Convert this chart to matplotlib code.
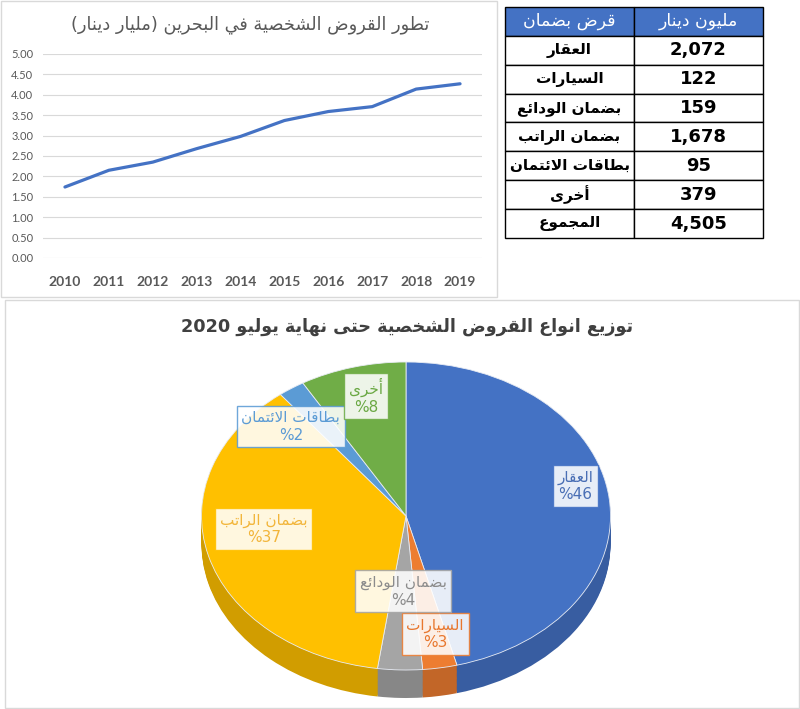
import re
import numpy as np
import matplotlib
matplotlib.use("Agg")
import matplotlib.pyplot as plt
from matplotlib.patches import Rectangle
from matplotlib.colors import to_rgb

# ---- data ----
years = [2010, 2011, 2012, 2013, 2014, 2015, 2016, 2017, 2018, 2019]
loans_bn = [1.74, 2.15, 2.35, 2.68, 2.98, 3.37, 3.59, 3.71, 4.14, 4.27]

loan_types = ["العقار", "السيارات", "بضمان الودائع", "بضمان الراتب", "بطاقات الائتمان", "أخرى"]
loan_values = [2072, 122, 159, 1678, 95, 379]
total_label = "المجموع"

line_title = "تطور القروض الشخصية في البحرين (مليار دينار)"
pie_title = "توزيع انواع القروض الشخصية حتى نهاية يوليو 2020"
table_header = ["قرض بضمان", "مليون دينار"]

# ---- styles ----
pie_colors = ["#4472C4", "#ED7D31", "#A5A5A5", "#FFC000", "#5B9BD5", "#70AD47"]
text_colors = ["#4A6FB5", "#E8772E", "#8C8C8C", "#F2B53A", "#5B9BD5", "#6AA843"]
label_r = [0.85, 0.78, 0.49, 0.70, 0.81, 0.80]
label_shift = [6, 1, 0, -8, 10, -1]

# ---- minimal arabic shaping (presentation forms) + visual order ----
DUAL = {'ئ': 0xFE89, 'ب': 0xFE8F, 'ت': 0xFE95, 'ث': 0xFE99, 'ج': 0xFE9D, 'ح': 0xFEA1,
        'خ': 0xFEA5, 'س': 0xFEB1, 'ش': 0xFEB5, 'ص': 0xFEB9, 'ض': 0xFEBD, 'ط': 0xFEC1,
        'ظ': 0xFEC5, 'ع': 0xFEC9, 'غ': 0xFECD, 'ف': 0xFED1, 'ق': 0xFED5, 'ك': 0xFED9,
        'ل': 0xFEDD, 'م': 0xFEE1, 'ن': 0xFEE5, 'ه': 0xFEE9, 'ي': 0xFEF1}
RIGHT = {'آ': 0xFE81, 'أ': 0xFE83, 'ؤ': 0xFE85, 'إ': 0xFE87, 'ا': 0xFE8D, 'ة': 0xFE93,
         'د': 0xFEA9, 'ذ': 0xFEAB, 'ر': 0xFEAD, 'ز': 0xFEAF, 'و': 0xFEED, 'ى': 0xFEEF}
LAMALEF = {'آ': 0xFEF5, 'أ': 0xFEF7, 'إ': 0xFEF9, 'ا': 0xFEFB}


def shape(s):
    toks = []
    i = 0
    while i < len(s):
        if s[i] == 'ل' and i + 1 < len(s) and s[i + 1] in LAMALEF:
            toks.append(('LA', s[i + 1]))
            i += 2
        else:
            toks.append(s[i])
            i += 1

    def is_ar(t):
        return isinstance(t, tuple) or t in DUAL or t in RIGHT

    out = []
    for j, t in enumerate(toks):
        prev = toks[j - 1] if j > 0 else None
        nxt = toks[j + 1] if j + 1 < len(toks) else None
        p = isinstance(prev, str) and prev in DUAL
        n = nxt is not None and is_ar(nxt)
        if isinstance(t, tuple):
            out.append(chr(LAMALEF[t[1]] + (1 if p else 0)))
        elif t in DUAL:
            b = DUAL[t]
            out.append(chr(b + 3) if p and n else chr(b + 1) if p else chr(b + 2) if n else chr(b))
        elif t in RIGHT:
            out.append(chr(RIGHT[t] + (1 if p else 0)))
        else:
            out.append(t)
    return ''.join(out)


def ar(s):
    shaped = shape(s)
    parts = re.split(r'([0-9A-Za-z][0-9A-Za-z.,]*)', shaped)
    mirror = {'(': ')', ')': '('}
    res = []
    for k, part in enumerate(parts):
        if k % 2 == 1:
            res.append(part)
        else:
            res.append(''.join(mirror.get(c, c) for c in part[::-1]))
    return ''.join(res[::-1])


plt.rcParams['font.family'] = ['DejaVu Sans']

W, H = 800, 709
fig = plt.figure(figsize=(W / 100, H / 100), dpi=100)


def px_rect(x0, y0, x1, y1):
    # pixel box (top-left origin) -> figure fraction rect
    return [x0 / W, 1 - y1 / H, (x1 - x0) / W, (y1 - y0) / H]


# panel borders
for (x0, y0, x1, y1) in [(1, 1, 497, 297), (5, 300, 799, 708)]:
    r = px_rect(x0, y0, x1, y1)
    fig.patches.append(Rectangle((r[0], r[1]), r[2], r[3], transform=fig.transFigure,
                                 fill=False, ec="#D9D9D9", lw=1))

# ---- line chart ----
ax = fig.add_axes(px_rect(43, 54, 482, 258))
x = np.arange(len(years))
ax.plot(x, loans_bn, color="#4472C4", lw=2.3, solid_capstyle="round")
ax.set_xlim(-0.5, len(years) - 0.5)
ax.set_ylim(0, 5)
ax.set_yticks(np.arange(0, 5.01, 0.5))
ax.set_yticklabels([f"{v:.2f}" for v in np.arange(0, 5.01, 0.5)],
                   fontsize=8, color="#595959", family=["Lato", "DejaVu Sans"])
ax.set_xticks(x)
ax.set_xticklabels([str(y) for y in years], fontsize=10, fontweight="bold",
                   color="#595959", family=["Lato", "DejaVu Sans"])
ax.tick_params(axis="both", length=0)
ax.tick_params(axis="y", pad=7)
ax.tick_params(axis="x", pad=13)
ax.grid(axis="y", color="#D9D9D9", lw=0.8)
ax.set_axisbelow(True)
for s in ax.spines.values():
    s.set_visible(False)
fig.text(250 / W, 1 - 25 / H, ar(line_title), ha="center", va="center",
         fontsize=12.8, color="#595959")

# ---- table ----
tax = fig.add_axes(px_rect(505, 7, 763, 238))
tax.axis("off")
rows = [[ar(n), f"{v:,}"] for n, v in zip(loan_types, loan_values)]
rows.append([ar(total_label), f"{sum(loan_values):,}"])
tbl = tax.table(cellText=rows, colLabels=[ar(h) for h in table_header],
                cellLoc="center", bbox=[0, 0, 1, 1])
tbl.auto_set_font_size(False)
for (r, c), cell in tbl.get_celld().items():
    cell.set_edgecolor("black")
    cell.set_linewidth(1)
    t = cell.get_text()
    if r == 0:
        cell.set_facecolor("#4472C4")
        t.set_color("white")
        t.set_fontsize(12.5)
    else:
        t.set_fontsize(11 if c == 0 else 13)
        t.set_fontweight("bold")
        t.set_color("black")

# ---- 3D-ish pie ----
cx, cy, rx, ry, depth_px = 406, 516, 204.5, 154, 28
xl, yl_top, yl_bot = 1.3, 1.2, 1.25
pax = fig.add_axes(px_rect(cx - xl * rx, cy - yl_top * ry, cx + xl * rx, cy + yl_bot * ry))
depth = depth_px / ry

side_cols = [tuple(c * 0.82 for c in to_rgb(col)) for col in pie_colors]
for off in np.linspace(depth, 0.005, 24):
    pax.pie(loan_values, startangle=90, counterclock=False, colors=side_cols,
            center=(0, -off), wedgeprops=dict(lw=0))
wedges, _ = pax.pie(loan_values, startangle=90, counterclock=False, colors=pie_colors,
                    center=(0, 0), wedgeprops=dict(lw=0.6, edgecolor="#E8ECF4"))
pax.set_aspect("auto")
pax.set_xlim(-xl, xl)
pax.set_ylim(-yl_bot, yl_top)
pax.axis("off")

total = sum(loan_values)
for w, name, v, tc, ec, r, sh in zip(wedges, loan_types, loan_values, text_colors,
                                     pie_colors, label_r, label_shift):
    mid = np.deg2rad((w.theta1 + w.theta2) / 2 + sh)
    pct = round(v / total * 100)
    pax.text(r * np.cos(mid), r * np.sin(mid), f"{ar(name)}\n%{pct}",
             ha="center", va="center", multialignment="center",
             fontsize=11, color=tc, linespacing=1.2,
             bbox=dict(boxstyle="square,pad=0.3", fc="white", alpha=0.88, ec=ec, lw=1))

fig.text(407 / W, 1 - 327 / H, ar(pie_title), ha="center", va="center",
         fontsize=12.7, fontweight="bold", color="#404040")

fig.savefig("out.png", dpi=100)
